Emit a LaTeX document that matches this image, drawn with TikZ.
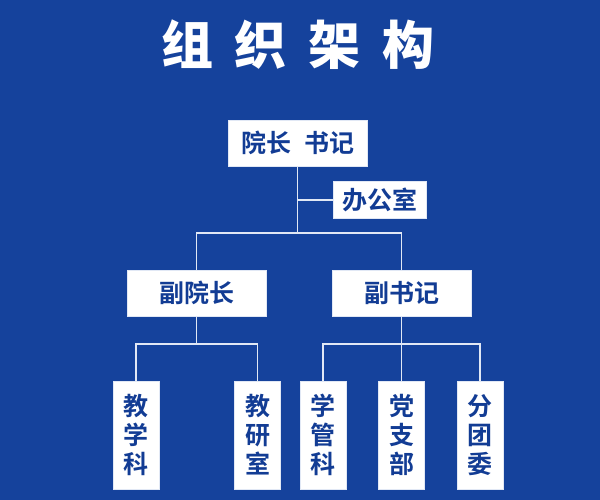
\documentclass[tikz,border=0pt]{standalone}
\usepackage{fontspec}
\newfontfamily\cjk{Noto Sans CJK SC Bold}
\newfontfamily\cjkblack{Noto Sans CJK SC Black}
\definecolor{bg}{RGB}{21,66,156}
\definecolor{ink}{RGB}{18,60,148}
\definecolor{ln}{RGB}{225,232,245}
\begin{document}
\begin{tikzpicture}[x=1pt,y=-1pt,
  box/.style={draw=ln,line width=0.6pt,fill=white,text=ink,inner sep=0pt,font=\cjk\fontsize{25}{25}\selectfont},
  vbox/.style={box,minimum width=46pt,minimum height=108pt,align=center,font=\cjk\fontsize{25}{29}\selectfont},
  link/.style={draw=ln,line width=1.2pt}]
\fill[bg] (0,0) rectangle (600,500);
\useasboundingbox (0,0) rectangle (600,500);
\node[text=white,font=\cjkblack\fontsize{52}{52}\selectfont] (title) at (298,45) {组\hspace{22pt}织\hspace{22pt}架\hspace{22pt}构};
\node[box,minimum width=139pt,minimum height=46pt] (top) at (297.5,143) {院长\hspace{13pt}书记};
\node[box,minimum width=93pt,minimum height=37pt] (off) at (379.5,200) {办公室};
\node[box,minimum width=139pt,minimum height=46pt] (vp) at (196.5,293) {副院长};
\node[box,minimum width=139pt,minimum height=46pt] (vs) at (401.5,293) {副书记};
\node[vbox] (a) at (136,435) {教\\学\\科};
\node[vbox] (b) at (257.5,435) {教\\研\\室};
\node[vbox] (c) at (323,435) {学\\管\\科};
\node[vbox] (d) at (401.5,435) {党\\支\\部};
\node[vbox] (e) at (480,435) {分\\团\\委};
\coordinate (h1) at (297.5,233);
\draw[link] (top.south) -- (h1);
\draw[link] (top.south |- off.west) -- (off.west);
\draw[link] (vp.north) |- (h1) -| (vs.north);
\coordinate (l1) at (196.5,344);
\coordinate (l2) at (401.5,344);
\draw[link] (vp.south) -- (l1);
\draw[link] (a.north) |- (l1) -| (b.north);
\draw[link] (vs.south) -- (d.north);
\draw[link] (c.north) |- (l2) -| (e.north);
\end{tikzpicture}
\end{document}
